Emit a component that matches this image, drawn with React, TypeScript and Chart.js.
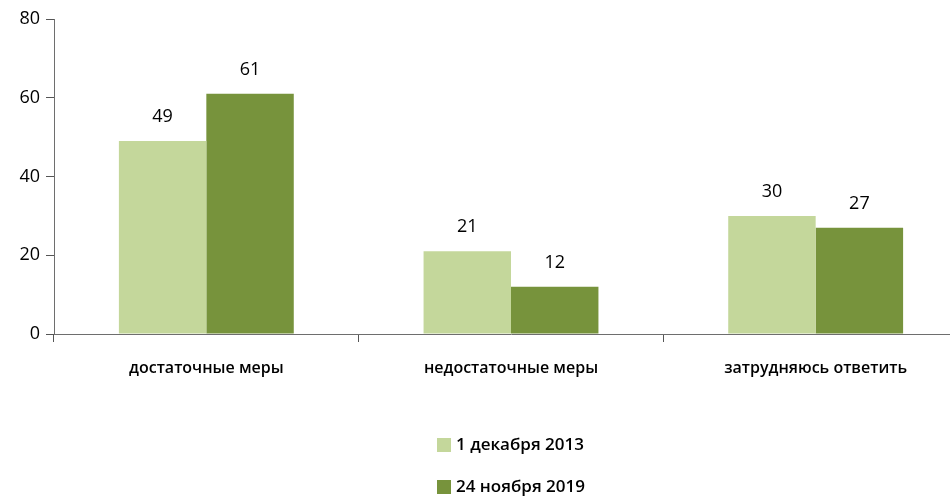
import React, { useEffect, useRef } from "react";
import { Chart, registerables } from "chart.js";

Chart.register(...registerables);

const categories = ["достаточные меры", "недостаточные меры", "затрудняюсь ответить"];
const series2013 = [49, 21, 30];
const series2019 = [61, 12, 27];
const seriesNames = ["1 декабря 2013", "24 ноября 2019"];
const yTicks = [0, 20, 40, 60, 80];

const COLORS = ["#c4d79b", "#77933c"];
const FONT = "'Open Sans', 'Noto Sans', sans-serif";

const valueLabels = {
  id: "valueLabels",
  afterDatasetsDraw(chart: any) {
    const ctx = chart.ctx;
    ctx.save();
    ctx.fillStyle = "#000";
    ctx.font = `500 18px ${FONT}`;
    ctx.textAlign = "center";
    ctx.textBaseline = "middle";
    chart.data.datasets.forEach((ds: any, i: number) => {
      const meta = chart.getDatasetMeta(i);
      meta.data.forEach((el: any, j: number) => {
        ctx.fillText(String(ds.data[j]), el.x, el.y - 24);
      });
    });
    ctx.restore();
  },
};

const customLegend = {
  id: "customLegend",
  afterDraw(chart: any) {
    const ctx = chart.ctx;
    ctx.save();
    ctx.font = `600 17px ${FONT}`;
    ctx.textBaseline = "middle";
    ctx.textAlign = "left";
    const bottom = chart.chartArea.bottom;
    chart.data.datasets.forEach((ds: any, i: number) => {
      const cy = bottom + 111 + i * 42;
      ctx.fillStyle = ds.backgroundColor;
      ctx.fillRect(437, cy - 7, 14, 14);
      ctx.fillStyle = "#000";
      ctx.fillText(ds.label, 456, cy);
    });
    ctx.restore();
  },
};

export default function App() {
  const ref = useRef<HTMLCanvasElement>(null);
  useEffect(() => {
    document.body.style.margin = "0";
    const chart = new Chart(ref.current!, {
      type: "bar",
      data: {
        labels: categories,
        datasets: [
          { label: seriesNames[0], data: series2013, backgroundColor: COLORS[0], barPercentage: 1, categoryPercentage: 0.574 },
          { label: seriesNames[1], data: series2019, backgroundColor: COLORS[1], barPercentage: 1, categoryPercentage: 0.574 },
        ],
      },
      options: {
        animation: false,
        responsive: false,
        layout: { padding: { top: 19, left: 0, right: 0, bottom: 0 } },
        plugins: { legend: { display: false }, tooltip: { enabled: false } },
        scales: {
          x: {
            offset: true,
            grid: { offset: true, drawOnChartArea: false, drawTicks: true, tickLength: 8, color: "#555" },
            border: { color: "#6e6e6e", width: 1 },
            ticks: { color: "#000", padding: 17, font: { family: FONT, size: 16, weight: 600 } },
            afterFit: (s: any) => { s.height = 165; },
          },
          y: {
            min: 0,
            max: 80,
            afterBuildTicks: (s: any) => { s.ticks = yTicks.map((v) => ({ value: v })); },
            grid: { drawOnChartArea: false, drawTicks: true, tickLength: 8, color: "#555" },
            border: { color: "#6e6e6e", width: 1 },
            ticks: { color: "#000", padding: 6, font: { family: FONT, size: 18, weight: 500 } },
            afterFit: (s: any) => { s.width = 54; },
          },
        },
      },
      plugins: [valueLabels, customLegend],
    });
    return () => chart.destroy();
  }, []);
  return (
    <div style={{ width: 950, height: 499, overflow: "hidden", background: "#fff" }}>
      <canvas ref={ref} width={968} height={499} style={{ display: "block" }} />
    </div>
  );
}
